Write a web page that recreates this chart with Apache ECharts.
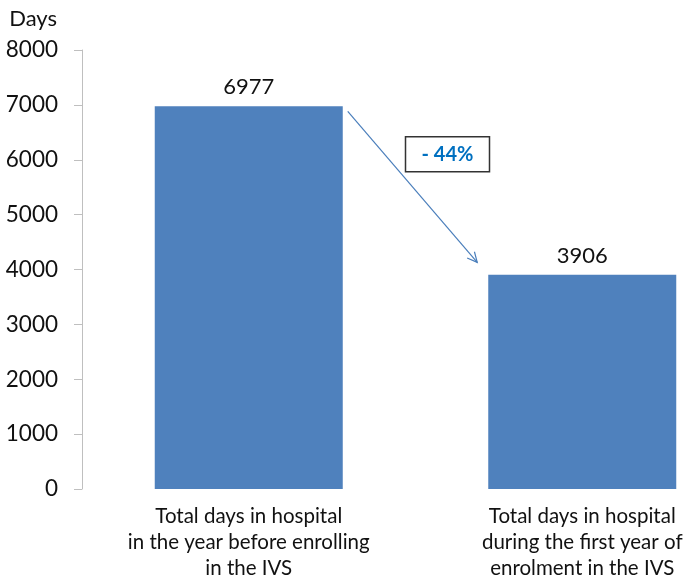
<!DOCTYPE html>
<html><head><meta charset="utf-8">
<script src="https://cdn.jsdelivr.net/npm/echarts@6/dist/echarts.min.js"></script>
<style>html,body{margin:0;padding:0;background:#fff;overflow:hidden}#c{width:760px;height:581px}</style>
</head><body><div id="c"></div>
<script>
const categories = ['Total days in hospital\nin the year before enrolling\nin the IVS', 'Total days in hospital\nduring the first year of\nenrolment in the IVS'];
const values = [6977, 3906];
const yTicks = [0, 1000, 2000, 3000, 4000, 5000, 6000, 7000, 8000];
const changeLabel = '- 44%';
const arrowFrom = 6880; // value level at arrow start
const arrowTo = 4130;   // value level at arrow end
const boxLevel = 6100;  // value level at box centre

const FONT = 'Lato, "Open Sans", sans-serif';
const BAR_W = 188;
const chart = echarts.init(document.getElementById('c'));
chart.setOption({
  animation: false,
  grid: { left: 82, top: 50, width: 667, height: 444, containLabel: false },
  xAxis: {
    type: 'category', data: categories,
    axisLine: { show: false }, axisTick: { show: false },
    axisLabel: { color: '#111', fontFamily: FONT, fontSize: 20.5, lineHeight: 26, margin: 14, interval: 0 }
  },
  yAxis: {
    type: 'value', min: yTicks[0], max: yTicks[yTicks.length - 1], interval: 1000,
    name: 'Days', nameLocation: 'end', nameGap: 0,
    nameTextStyle: { color: '#111', fontFamily: FONT, fontSize: 22, align: 'right', verticalAlign: 'bottom', padding: [0, 25, 20, 0] },
    axisLine: { show: true, lineStyle: { color: '#BFBFBF', width: 1 } },
    axisTick: { show: true, length: 8, lineStyle: { color: '#BFBFBF' } },
    splitLine: { show: false },
    axisLabel: { color: '#111', fontFamily: FONT, fontSize: 22.5, margin: 24, formatter: v => String(v) }
  },
  series: [{
    type: 'bar', data: values, barWidth: BAR_W,
    itemStyle: { color: '#4F81BD' },
    label: { show: true, position: 'top', distance: 8, color: '#111', fontFamily: FONT, fontSize: 22 }
  }]
});

function drawAnnotations() {
  const p0 = chart.convertToPixel({ gridIndex: 0 }, [0, arrowFrom]);
  const p1 = chart.convertToPixel({ gridIndex: 0 }, [1, arrowTo]);
  const x0 = p0[0] + BAR_W / 2 + 5, y0 = p0[1];
  const x1 = p1[0] - BAR_W / 2 - 11, y1 = p1[1];
  const ang = Math.atan2(y1 - y0, x1 - x0);
  const hl = 11, ha = 0.45;
  const h1 = [x1 - hl * Math.cos(ang - ha), y1 - hl * Math.sin(ang - ha)];
  const h2 = [x1 - hl * Math.cos(ang + ha), y1 - hl * Math.sin(ang + ha)];
  const bc = chart.convertToPixel({ gridIndex: 0 }, [0, boxLevel]);
  const mid = (p0[0] + p1[0]) / 2 + 32;
  const bw = 84, bh = 35;
  chart.setOption({
    graphic: [
      { type: 'line', shape: { x1: x0, y1: y0, x2: x1, y2: y1 }, style: { stroke: '#4A7EBB', lineWidth: 1.2 } },
      { type: 'polyline', shape: { points: [h1, [x1, y1], h2] }, style: { stroke: '#4A7EBB', lineWidth: 1.2, fill: null } },
      { type: 'rect', shape: { x: mid - bw / 2, y: bc[1] - bh / 2, width: bw, height: bh }, style: { fill: '#fff', stroke: '#333', lineWidth: 1.5 } },
      { type: 'text', x: mid, y: bc[1], style: { text: changeLabel, fill: '#0070C0', font: 'bold 20px ' + FONT, align: 'center', verticalAlign: 'middle' } }
    ]
  });
}
drawAnnotations();
</script></body></html>
